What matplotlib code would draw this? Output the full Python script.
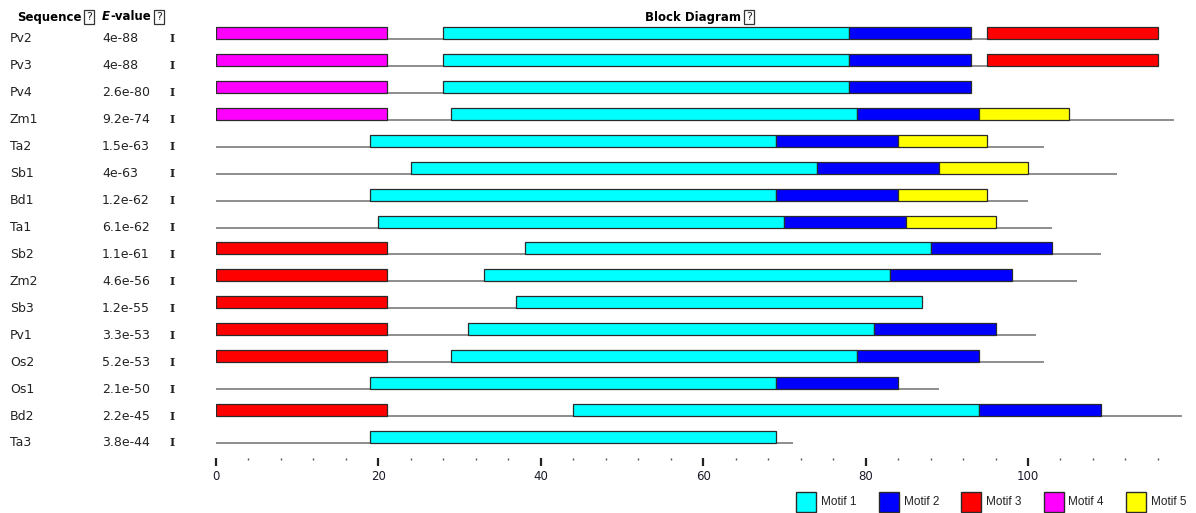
import matplotlib
matplotlib.use("Agg")
import matplotlib.pyplot as plt
from matplotlib.patches import Rectangle
from matplotlib import transforms

# MEME-style block diagram: motif sites on each sequence
sequences = ["Pv2", "Pv3", "Pv4", "Zm1", "Ta2", "Sb1", "Bd1", "Ta1",
             "Sb2", "Zm2", "Sb3", "Pv1", "Os2", "Os1", "Bd2", "Ta3"]
evalues = ["4e-88", "4e-88", "2.6e-80", "9.2e-74", "1.5e-63", "4e-63",
           "1.2e-62", "6.1e-62", "1.1e-61", "4.6e-56", "1.2e-55", "3.3e-53",
           "5.2e-53", "2.1e-50", "2.2e-45", "3.8e-44"]
lengths = [116, 116, 93, 118, 102, 111, 100, 103,
           109, 106, 87, 101, 102, 89, 119, 71]

motif_names = ["Motif 1", "Motif 2", "Motif 3", "Motif 4", "Motif 5"]
motif_widths = [50, 15, 21, 21, 11]
motif_colors = ["#00FFFF", "#0000FF", "#FF0000", "#FF00FF", "#FFFF00"]

# (motif number, start position) for every site
sites = [
    [(4, 0), (1, 28), (2, 78), (3, 95)],
    [(4, 0), (1, 28), (2, 78), (3, 95)],
    [(4, 0), (1, 28), (2, 78)],
    [(4, 0), (1, 29), (2, 79), (5, 94)],
    [(1, 19), (2, 69), (5, 84)],
    [(1, 24), (2, 74), (5, 89)],
    [(1, 19), (2, 69), (5, 84)],
    [(1, 20), (2, 70), (5, 85)],
    [(3, 0), (1, 38), (2, 88)],
    [(3, 0), (1, 33), (2, 83)],
    [(3, 0), (1, 37)],
    [(3, 0), (1, 31), (2, 81)],
    [(3, 0), (1, 29), (2, 79)],
    [(1, 19), (2, 69)],
    [(3, 0), (1, 44), (2, 94)],
    [(1, 19)],
]

W, H = 1196, 513
unit_px = 8.12
row_px = 26.93
top_px, bottom_px = 39 - row_px, 458

fig = plt.figure(figsize=(W / 100, H / 100), dpi=100)
ax = fig.add_axes([216 / W, (H - bottom_px) / H,
                   120 * unit_px / W, (bottom_px - top_px) / H])
ax.set_xlim(0, 120)
ax.set_ylim(-1 + (bottom_px - top_px) / row_px, -1)

bar_h = 12 / row_px
for i, (length, row_sites) in enumerate(zip(lengths, sites)):
    ax.hlines(i, 0, length, color="#7a7a7a", lw=1.2, zorder=1)
    for motif, start in row_sites:
        ax.add_patch(Rectangle((start, i - bar_h), motif_widths[motif - 1], bar_h,
                               fc=motif_colors[motif - 1], ec="#2a2a2a",
                               lw=0.9, zorder=3))

# ruler along the bottom
for s in ax.spines.values():
    s.set_visible(False)
ax.set_yticks([])
ax.set_xticks(range(0, 101, 20))
ax.set_xticks([v for v in range(4, 117, 4) if v % 20 != 0], minor=True)
ax.tick_params(axis="x", which="major", direction="out", length=6, width=1.6,
               color="#222222", pad=2.5, labelsize=8.5, labelcolor="#1a1a2a")
ax.tick_params(axis="x", which="minor", direction="out", length=1.5, width=1,
               color="#555555")

# left-hand columns
trans = transforms.blended_transform_factory(fig.transFigure, ax.transData)
for i, (name, ev) in enumerate(zip(sequences, evalues)):
    ax.text(10 / W, i, name, transform=trans, va="center", ha="left",
            fontsize=9, color="#222222")
    ax.text(102 / W, i, ev, transform=trans, va="center", ha="left",
            fontsize=9, color="#222222")
    ax.text(172 / W, i, "I", transform=trans, va="center", ha="center",
            fontsize=8, family="DejaVu Serif", weight="bold", color="#222222")

# headers, each followed by a small "?" box
renderer = fig.canvas.get_renderer()
qbox = dict(boxstyle="square,pad=0.18", fc="white", ec="#333333", lw=0.9)
hy = 1 - 17 / H


def help_box(after):
    bb = after.get_window_extent(renderer)
    fig.text((bb.x1 + 5) / W, hy, "?", fontsize=8, va="center", ha="left",
             bbox=qbox, color="#222222")


t = fig.text(17 / W, hy, "Sequence", weight="bold", fontsize=8.5, va="center")
help_box(t)
t = fig.text(102 / W, hy, "E", weight="bold", style="italic", fontsize=8.5,
             va="center")
bb = t.get_window_extent(renderer)
t = fig.text((bb.x1 + 0.5) / W, hy, "-value", weight="bold", fontsize=8.5,
             va="center")
help_box(t)
t = fig.text(645 / W, hy, "Block Diagram", weight="bold", fontsize=8.5,
             va="center")
help_box(t)

# legend
for k, (label, color) in enumerate(zip(motif_names, motif_colors)):
    x0 = 796 + 82.5 * k
    fig.add_artist(Rectangle((x0 / W, 1 - 512 / H), 20 / W, 20 / H,
                             transform=fig.transFigure, fc=color,
                             ec="#2a2a2a", lw=1.0))
    fig.text((x0 + 25) / W, 1 - 502 / H, label, va="center", ha="left",
             fontsize=8.5, family="Liberation Sans", color="#222222")

fig.savefig("out.png", dpi=100)
